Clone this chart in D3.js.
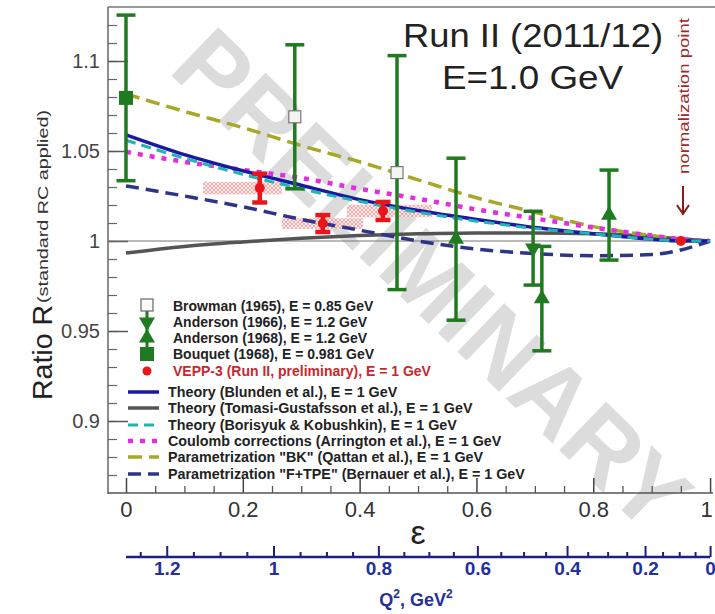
<!DOCTYPE html>
<html><head><meta charset="utf-8">
<script src="https://cdn.jsdelivr.net/npm/d3@7"></script>
<style>body{margin:0;background:#fff}svg{display:block}text{font-family:Arial,"Liberation Sans",sans-serif}</style>
</head><body><svg id="c" width="715" height="614"></svg>
<script>
// ---------- data ----------
const epsGrid   = [0, 0.1, 0.2, 0.3, 0.4, 0.5, 0.6, 0.7, 0.8, 0.9, 0.95, 1.0];
const blunden   = [1.059, 1.048, 1.039, 1.031, 1.023, 1.017, 1.012, 1.0075, 1.004, 1.001, 1.0, 1.0];
const tomasi    = [0.9933, 0.997, 0.9995, 1.0015, 1.003, 1.004, 1.0045, 1.0045, 1.004, 1.0025, 1.0012, 1.0];
const borisyuk  = [1.056, 1.046, 1.037, 1.029, 1.022, 1.016, 1.011, 1.007, 1.004, 1.001, 1.0, 1.0];
const arrington = [1.0495, 1.044, 1.0395, 1.035, 1.029, 1.0235, 1.0175, 1.0125, 1.0075, 1.003, 1.001, 1.0];
const bkParam   = [1.0817, 1.072, 1.063, 1.053, 1.044, 1.034, 1.024, 1.016, 1.008, 1.003, 1.001, 1.0];
const ftpeParam = [1.0306, 1.025, 1.019, 1.012, 1.006, 1.0, 0.9955, 0.993, 0.9918, 0.9925, 0.995, 1.0];

const browmanEps = [0.289, 0.464];
const browmanR   = [1.069, 1.038];
const browmanErr = [0.040, 0.065];
const anderson66Eps = [0.697];
const anderson66R   = [0.996];
const anderson66Err = [0.0205];
const anderson68Eps = [0.565, 0.712, 0.827];
const anderson68R   = [1.001, 0.968, 1.0144];
const anderson68Err = [0.045, 0.029, 0.025];
const bouquetEps = [0.0];
const bouquetR   = [1.0795];
const bouquetErr = [0.046];
const veppEps = [0.229, 0.337, 0.440];
const veppR   = [1.0294, 1.0097, 1.0167];
const veppErr = [0.008, 0.0047, 0.005];
const veppSysLo = [0.132, 0.267, 0.378];
const veppSysHi = [0.267, 0.406, 0.524];
const veppSysErr = [0.0035, 0.003, 0.0035];
const normEps = [0.950];
const normR   = [1.0];

const yMajor = [0.9, 0.95, 1, 1.05, 1.1];
const yMajorLabels = ["0.9", "0.95", "1", "1.05", "1.1"];
const xMajor = [0, 0.2, 0.4, 0.6, 0.8, 1];
const xMajorLabels = ["0", "0.2", "0.4", "0.6", "0.8", "1"];
const q2Major = [1.2, 1.0, 0.8, 0.6, 0.4, 0.2, 0.0];
const q2Labels = ["1.2", "1", "0.8", "0.6", "0.4", "0.2", "0"];
const q2Minor = [1.25, 1.15, 1.1, 1.05, 0.95, 0.9, 0.85, 0.75, 0.7, 0.65, 0.55, 0.5, 0.45, 0.35, 0.3, 0.25, 0.15, 0.1, 0.05];

const markerLegend = ["Browman (1965), E = 0.85 GeV", "Anderson (1966), E = 1.2 GeV", "Anderson (1968), E = 1.2 GeV",
  "Bouquet (1968), E = 0.981 GeV", "VEPP-3 (Run II, preliminary), E = 1 GeV"];
const lineLegend = ["Theory (Blunden et al.), E = 1 GeV", "Theory (Tomasi-Gustafsson et al.), E = 1 GeV",
  "Theory (Borisyuk & Kobushkin), E = 1 GeV", "Coulomb corrections (Arrington et al.), E = 1 GeV",
  "Parametrization \"BK\" (Qattan et al.), E = 1 GeV", "Parametrization \"F+TPE\" (Bernauer et al.), E = 1 GeV"];

// ---------- setup ----------
const svg = d3.select("#c");
const x = d3.scaleLinear().domain([-0.0308, 1.005]).range([108, 713]);
const y = d3.scaleLinear().domain([0.86, 1.13]).range([493, 7]);
const GREEN = "#207a20", RED = "#e8151b";

// epsilon as a function of Q^2 for E = 1 GeV beam on proton
const E = 1.0, M = 0.938;
function epsOfQ2(q) {
  const s = q / (4 * E * E - 2 * E * q / M);
  const t2 = s / (1 - s), tau = q / (4 * M * M);
  return 1 / (1 + 2 * (1 + tau) * t2);
}

// pattern for systematic bands
const defs = svg.append("defs");
const pat = defs.append("pattern").attr("id", "hatch").attr("width", 4).attr("height", 4).attr("patternUnits", "userSpaceOnUse");
pat.append("rect").attr("width", 4).attr("height", 4).attr("fill", "#fde6e6");
pat.append("path").attr("d", "M0,0L4,4M4,0L0,4").attr("stroke", "#f29a9a").attr("stroke-width", 1);

// watermark
svg.append("text").attr("transform", "translate(432,280) rotate(44)")
  .attr("text-anchor", "middle").attr("dominant-baseline", "central")
  .attr("font-size", 98).attr("font-weight", "bold").attr("fill", "#dcdcdc")
  .text("PRELIMINARY");

// frame top
svg.append("line").attr("x1", 108).attr("x2", 715).attr("y1", 7).attr("y2", 7).attr("stroke", "#999").attr("stroke-width", 2);

// y axis
const yMinor = d3.range(0.87, 1.125, 0.01).map(v => +v.toFixed(2));
svg.append("g").attr("transform", "translate(108,0)")
  .call(d3.axisLeft(y).tickValues(yMinor).tickSizeInner(-9).tickSizeOuter(0).tickFormat(""))
  .call(g => g.select(".domain").remove())
  .call(g => g.selectAll("line").attr("stroke", "#666").attr("stroke-width", 1.2));
svg.append("g").attr("transform", "translate(108,0)")
  .call(d3.axisLeft(y).tickValues(yMajor).tickSizeInner(-20).tickSizeOuter(0).tickPadding(8)
    .tickFormat((d, i) => yMajorLabels[i]))
  .call(g => g.select(".domain").remove())
  .call(g => g.selectAll("line").attr("stroke", "#555").attr("stroke-width", 1.5))
  .call(g => g.selectAll("text").attr("font-size", 20).attr("fill", "#444").attr("font-family", "Arial"));
svg.append("line").attr("x1", 108).attr("x2", 108).attr("y1", 7).attr("y2", 494).attr("stroke", "#666").attr("stroke-width", 1.5);

// x axis
const xMinor = d3.range(0.05, 1.0, 0.05).map(v => +v.toFixed(2)).filter(v => xMajor.indexOf(v) < 0);
svg.append("g").attr("transform", "translate(0,493)")
  .call(d3.axisBottom(x).tickValues(xMinor).tickSizeInner(-7).tickSizeOuter(0).tickFormat(""))
  .call(g => g.select(".domain").remove())
  .call(g => g.selectAll("line").attr("stroke", "#555").attr("stroke-width", 1.3));
svg.append("g").attr("transform", "translate(0,493)")
  .call(d3.axisBottom(x).tickValues(xMajor).tickSizeInner(-15).tickSizeOuter(0).tickPadding(8)
    .tickFormat((d, i) => xMajorLabels[i]))
  .call(g => g.select(".domain").remove())
  .call(g => g.selectAll("line").attr("stroke", "#444").attr("stroke-width", 1.5))
  .call(g => g.selectAll("text").attr("font-size", 22).attr("fill", "#333").attr("font-family", "Arial")
    .attr("dx", d => d === 1 ? -4 : 0));
svg.append("line").attr("x1", 108).attr("x2", 713).attr("y1", 493).attr("y2", 493).attr("stroke", "#555").attr("stroke-width", 1.5);

// Q^2 axis
const QC = "#1c2080";
svg.append("g").attr("transform", "translate(0,557)")
  .call(d3.axisBottom(x).tickValues(q2Minor.map(epsOfQ2)).tickSizeInner(-5).tickSizeOuter(0).tickFormat(""))
  .call(g => g.select(".domain").remove())
  .call(g => g.selectAll("line").attr("stroke", QC).attr("stroke-width", 2));
svg.append("g").attr("transform", "translate(0,557)")
  .call(d3.axisBottom(x).tickValues(q2Major.map(epsOfQ2)).tickSizeInner(-11).tickSizeOuter(0).tickPadding(5)
    .tickFormat((d, i) => q2Labels[i]))
  .call(g => g.select(".domain").remove())
  .call(g => g.selectAll("line").attr("stroke", QC).attr("stroke-width", 2))
  .call(g => g.selectAll("text").attr("font-size", 19).attr("font-weight", "bold").attr("fill", "#23309a").attr("font-family", "Arial"));
svg.append("line").attr("x1", x(0)).attr("x2", x(1)).attr("y1", 557).attr("y2", 557).attr("stroke", QC).attr("stroke-width", 2.5);

// axis titles
svg.append("text").attr("x", 418).attr("y", 544).attr("text-anchor", "middle")
  .attr("font-family", "Liberation Serif, DejaVu Serif, serif").attr("font-size", 34).attr("fill", "#222").text("ε");
const q2t = svg.append("text").attr("x", 416).attr("y", 606).attr("text-anchor", "middle")
  .attr("font-size", 18).attr("font-weight", "bold").attr("fill", "#23309a");
q2t.append("tspan").text("Q");
q2t.append("tspan").attr("font-size", 12).attr("dy", -8).text("2");
q2t.append("tspan").attr("dy", 8).text(", GeV");
q2t.append("tspan").attr("font-size", 12).attr("dy", -8).text("2");

svg.append("text").attr("transform", "translate(52,400) rotate(-90)")
  .attr("font-size", 28).attr("fill", "#222").attr("textLength", 95).attr("lengthAdjust", "spacingAndGlyphs").text("Ratio R");
svg.append("text").attr("transform", "translate(48,303) rotate(-90)")
  .attr("font-size", 15).attr("fill", "#333").attr("textLength", 193).attr("lengthAdjust", "spacingAndGlyphs").text("(standard RC applied)");

// reference line R = 1
svg.append("line").attr("x1", 108).attr("x2", x(1)).attr("y1", y(1)).attr("y2", y(1)).attr("stroke", "#777").attr("stroke-width", 1.2);

// systematic bands
svg.append("g").selectAll("rect").data(veppEps).join("rect")
  .attr("x", (d, i) => x(veppSysLo[i])).attr("width", (d, i) => x(veppSysHi[i]) - x(veppSysLo[i]))
  .attr("y", (d, i) => y(veppR[i] + veppSysErr[i])).attr("height", (d, i) => y(veppR[i] - veppSysErr[i]) - y(veppR[i] + veppSysErr[i]))
  .attr("fill", "url(#hatch)").attr("opacity", 0.8);

// curves
const curves = [
  {v: tomasi, color: "#555555", dash: null, w: 3.5},
  {v: ftpeParam, color: "#2e3488", dash: "13,7", w: 3.5},
  {v: bkParam, color: "#a8a828", dash: "14,7", w: 3.5},
  {v: arrington, color: "#e02ee0", dash: "5,7", w: 4.5},
  {v: blunden, color: "#1a1aa0", dash: null, w: 3.5},
  {v: borisyuk, color: "#22b4b4", dash: "10,6", w: 3},
];
const line = d3.line().curve(d3.curveMonotoneX);
curves.forEach(c => {
  svg.append("path").attr("d", line(epsGrid.map((e, i) => [x(e), y(c.v[i])])))
    .attr("fill", "none").attr("stroke", c.color).attr("stroke-width", c.w)
    .attr("stroke-dasharray", c.dash);
});

// error bars
function errBars(eps, R, err, color, capW, lw) {
  const g = svg.append("g").attr("stroke", color);
  eps.forEach((e, i) => {
    const cx = x(e), yt = y(R[i] + err[i]), yb = y(R[i] - err[i]);
    g.append("line").attr("x1", cx).attr("x2", cx).attr("y1", yt).attr("y2", yb).attr("stroke-width", lw);
    g.append("line").attr("x1", cx - capW / 2).attr("x2", cx + capW / 2).attr("y1", yt).attr("y2", yt).attr("stroke-width", lw);
    g.append("line").attr("x1", cx - capW / 2).attr("x2", cx + capW / 2).attr("y1", yb).attr("y2", yb).attr("stroke-width", lw);
  });
}
errBars(bouquetEps, bouquetR, bouquetErr, GREEN, 19, 3.5);
errBars(browmanEps, browmanR, browmanErr, GREEN, 19, 3.5);
errBars(anderson68Eps, anderson68R, anderson68Err, GREEN, 19, 3.5);
errBars(anderson66Eps, anderson66R, anderson66Err, GREEN, 19, 3.5);
errBars(veppEps, veppR, veppErr, RED, 15, 4.5);

// markers
const triUp = d3.symbol().type(d3.symbolTriangle).size(110);
svg.append("g").selectAll("rect").data(bouquetEps).join("rect")
  .attr("x", d => x(d) - 7).attr("y", (d, i) => y(bouquetR[i]) - 7).attr("width", 14).attr("height", 14).attr("fill", GREEN);
svg.append("g").selectAll("rect").data(browmanEps).join("rect")
  .attr("x", d => x(d) - 6).attr("y", (d, i) => y(browmanR[i]) - 6).attr("width", 12).attr("height", 12)
  .attr("fill", "#f4f4f4").attr("stroke", "#777").attr("stroke-width", 1.2);
svg.append("g").selectAll("path").data(anderson68Eps).join("path")
  .attr("d", triUp).attr("transform", (d, i) => `translate(${x(d)},${y(anderson68R[i])})`).attr("fill", GREEN);
svg.append("g").selectAll("path").data(anderson66Eps).join("path")
  .attr("d", triUp).attr("transform", (d, i) => `translate(${x(d)},${y(anderson66R[i])}) rotate(180)`).attr("fill", GREEN);
svg.append("g").selectAll("circle").data(veppEps).join("circle")
  .attr("cx", d => x(d)).attr("cy", (d, i) => y(veppR[i])).attr("r", 5).attr("fill", RED);
svg.append("g").selectAll("circle").data(normEps).join("circle")
  .attr("cx", d => x(d)).attr("cy", (d, i) => y(normR[i])).attr("r", 5).attr("fill", RED);

// titles
svg.append("text").attr("x", 403).attr("y", 47).attr("font-size", 33).attr("fill", "#222")
  .attr("textLength", 260).attr("lengthAdjust", "spacingAndGlyphs").text("Run II (2011/12)");
svg.append("text").attr("x", 442).attr("y", 89).attr("font-size", 33).attr("fill", "#222")
  .attr("textLength", 181).attr("lengthAdjust", "spacingAndGlyphs").text("E=1.0 GeV");

// normalization point
svg.append("text").attr("transform", "translate(689,174) rotate(-90)").attr("font-size", 14).attr("fill", "#a02828")
  .attr("textLength", 156).attr("lengthAdjust", "spacingAndGlyphs").text("normalization point");
svg.append("line").attr("x1", 683).attr("x2", 683).attr("y1", 186).attr("y2", 213).attr("stroke", "#8b1a1a").attr("stroke-width", 2);
svg.append("path").attr("d", "M677,205L683,214L689,205").attr("fill", "none").attr("stroke", "#8b1a1a").attr("stroke-width", 2);

// legend - markers
const lgY = [306, 322, 338, 354, 371];
const lg = svg.append("g");
lg.append("line").attr("x1", 147).attr("x2", 147).attr("y1", 310).attr("y2", 352).attr("stroke", GREEN).attr("stroke-width", 3);
lg.append("rect").attr("x", 141).attr("y", lgY[0] - 7).attr("width", 12).attr("height", 12).attr("fill", "#fafafa").attr("stroke", "#666").attr("stroke-width", 1.2);
lg.append("path").attr("d", triUp).attr("transform", `translate(147,${lgY[1]}) rotate(180)`).attr("fill", GREEN);
lg.append("path").attr("d", triUp).attr("transform", `translate(147,${lgY[2]})`).attr("fill", GREEN);
lg.append("rect").attr("x", 140).attr("y", lgY[3] - 7).attr("width", 14).attr("height", 14).attr("fill", GREEN);
lg.append("circle").attr("cx", 147).attr("cy", lgY[4]).attr("r", 4.5).attr("fill", RED);
lg.selectAll("text.m").data(markerLegend).join("text").attr("class", "m")
  .attr("x", 173).attr("y", (d, i) => lgY[i] + 5).attr("font-size", 14).attr("font-weight", "bold")
  .attr("fill", (d, i) => i === 4 ? "#c8282c" : "#222").text(d => d);

// legend - lines
const llY = [392, 408, 425, 441, 457, 474];
const lineStyles = [curves[4], curves[0], curves[5], curves[3], curves[2], curves[1]];
lineStyles.forEach((c, i) => {
  lg.append("line").attr("x1", 128).attr("x2", 159).attr("y1", llY[i]).attr("y2", llY[i])
    .attr("stroke", c.color).attr("stroke-width", c.w).attr("stroke-dasharray", c.dash);
});
lg.selectAll("text.l").data(lineLegend).join("text").attr("class", "l")
  .attr("x", 168).attr("y", (d, i) => llY[i] + 5).attr("font-size", 14.3).attr("font-weight", "bold")
  .attr("fill", "#222").text(d => d);
</script>
</body></html>
